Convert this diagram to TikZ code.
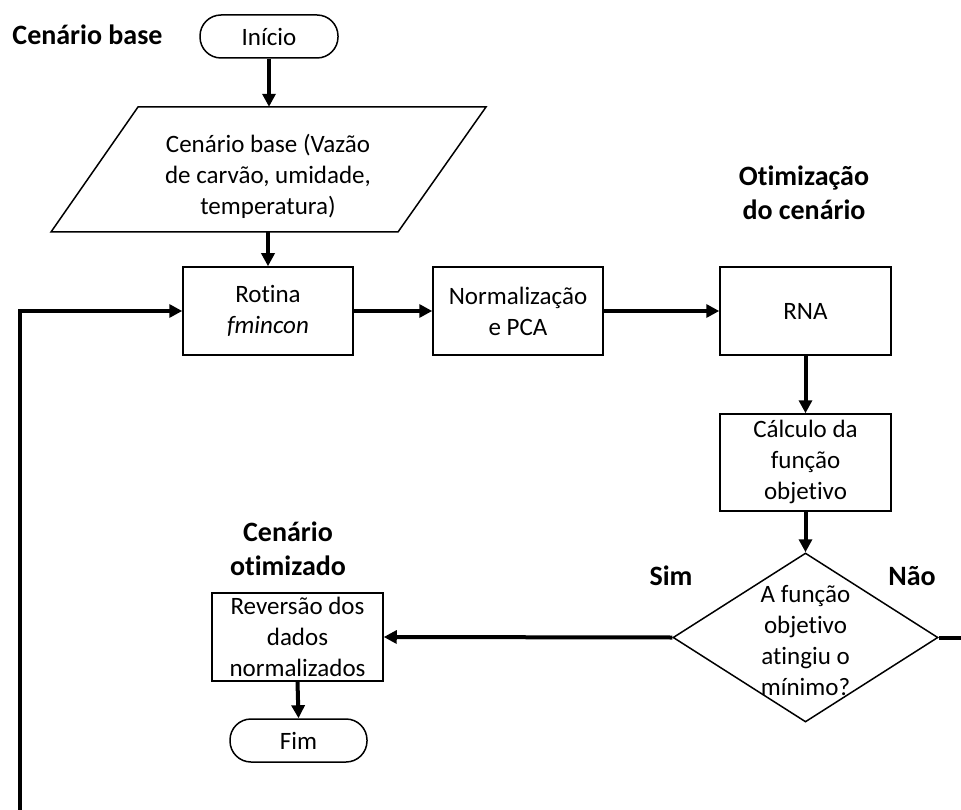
\documentclass[tikz,border=0pt]{standalone}
\usepackage{fontspec}
\setmainfont{Carlito}[Ligatures={NoCommon}]
\usetikzlibrary{arrows.meta,shapes.geometric}
\newcommand\myBody{\fontsize{25}{31}\selectfont}
\newcommand\myTitle{\fontsize{28}{34}\selectfont\bfseries}
\begin{document}
\begin{tikzpicture}[x=1pt,y=-1pt,
  box/.style={draw, line width=1.5pt, inner sep=0pt, align=center, font=\myBody},
  procbox/.style={box, rectangle, minimum width=171pt, minimum height=88pt},
  termbox/.style={box, rectangle, rounded corners=21pt, minimum width=138pt, minimum height=43pt},
  txt/.style={inner sep=0pt, align=center, font=\myBody},
  ttl/.style={inner sep=0pt, align=center, font=\myTitle},
  flow/.style={line width=4pt, -{Triangle[length=13pt,width=13pt]}},
  plain/.style={line width=4pt}]
\useasboundingbox (0,0) rectangle (961,810);

% titles
\node[ttl, anchor=base] (t1) at (87.5,45) {Cenário base};
\node[ttl] (t2) at (804,193) {Otimização\\do cenário};
\node[ttl] (t3) at (288,549) {Cenário\\otimizado};
\node[ttl, anchor=base] (sim) at (671,585) {Sim};
\node[ttl, anchor=base] (nao) at (912,585) {Não};

% nodes
\node[termbox] (inicio) at (269,36.5) {Início};
\node[inner sep=0pt, minimum width=260pt, minimum height=125pt] (inp) at (268,169.5) {};
\draw[line width=1.5pt] (138,107) -- (486,107) -- (398,232) -- (51,232) -- cycle;
\node[txt] (inptext) at (268,176) {Cenário base (Vazão\\de carvão, umidade,\\temperatura)};
\node[procbox, minimum width=170pt] (rotina) at (268,311) {Rotina\\\textit{fmincon}};
\node[procbox, minimum width=170pt] (norm) at (518,311) {Normalização\\e PCA};
\node[procbox] (rna) at (805.5,311) {RNA};
\node[procbox, minimum height=97pt] (calc) at (805.5,462.5) {\raisebox{-2pt}{\begin{tabular}{@{}c@{}}Cálculo da\\função\\objetivo\end{tabular}}};
\node[box, diamond, minimum width=265pt, minimum height=169pt] (dec) at (805.5,637.5) {};
\node[txt] (dectext) at (805.5,641) {A função\\objetivo\\atingiu o\\mínimo?};
\node[procbox] (rev) at (297.5,637) {Reversão dos\\dados\\normalizados};
\node[termbox, minimum width=137pt] (fim) at (298.5,740.5) {Fim};

\coordinate (naoend) at (961,637.5);
\coordinate (loopstart) at (20,810);

% connectors
\draw[flow] (inicio.south) -- (inicio.south |- inp.north);
\draw[flow] (inp.south) -- (inp.south -| rotina.north) -- (rotina.north);
\draw[flow] (rotina.east) -- (norm.west);
\draw[flow] (norm.east) -- (rna.west);
\draw[flow] (rna.south) -- (calc.north);
\draw[flow] (calc.south) -- (dec.north);
\draw[flow] (dec.west) -- (rev.east);
\draw[flow] (rev.south) -- (fim.north);
\draw[plain] (dec.east) -- (naoend);
\draw[flow] (loopstart) |- (rotina.west);
\end{tikzpicture}
\end{document}
